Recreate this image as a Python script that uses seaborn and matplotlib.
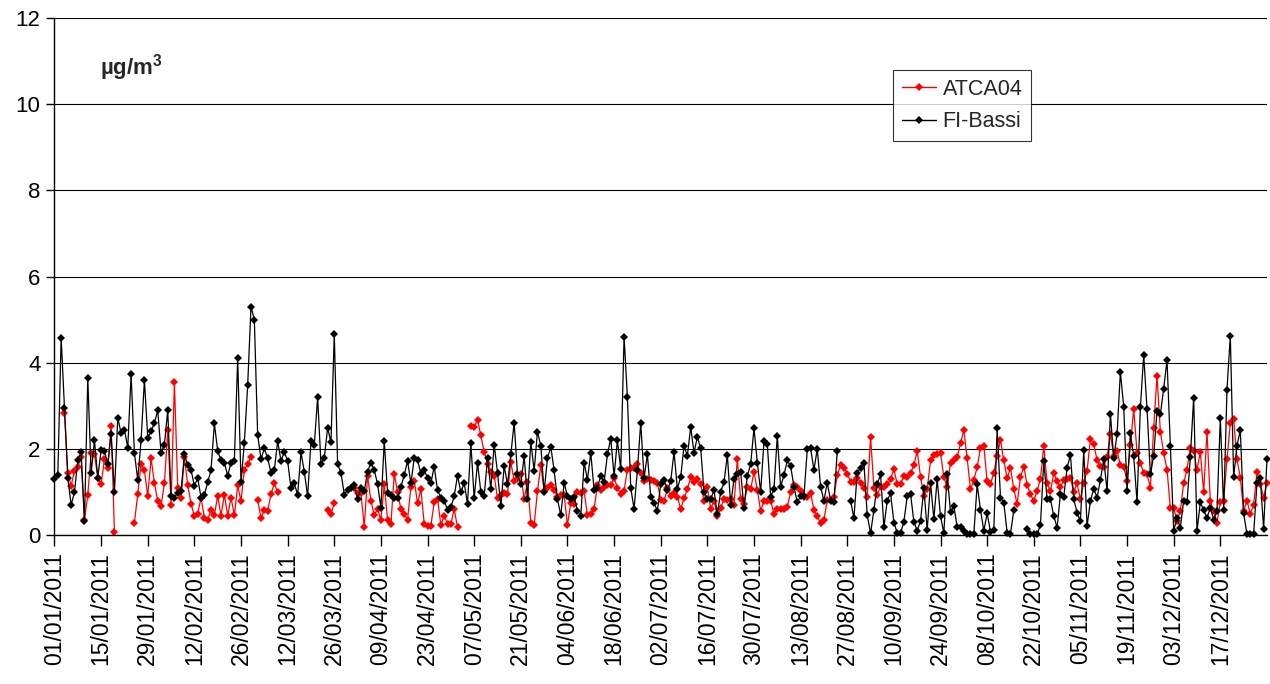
import numpy as np
import pandas as pd
import seaborn as sns
import matplotlib.pyplot as plt
from matplotlib.lines import Line2D

nan = np.nan

# FI-Bassi - valori giornalieri (µg/m3), un elenco per mese
bassi_gen = [1.30, 1.39, 4.58, 2.94, 1.32, 0.70, 0.99, 1.73, 1.92, 0.32, 3.64, 1.43, 2.20, 1.33, 1.97, 1.95,
             1.64, 2.34, 0.99, 2.72, 2.36, 2.44, 2.03, 3.73, 1.90, 1.28, 2.20, 3.60, 2.26, 2.41, 2.60]
bassi_feb = [2.90, 1.90, 2.10, 2.90, 0.90, 0.87, 0.98, 1.02, 1.87, 1.62, 1.51, 1.14, 1.32, 0.87, 0.94, 1.22,
             1.51, 2.59, 1.95, 1.73, 1.68, 1.38, 1.68, 1.72, 4.10, 1.22, 2.14, 3.48]
bassi_mar = [5.30, 5.00, 2.32, 1.76, 2.01, 1.78, 1.45, 1.51, 2.18, 1.72, 1.93, 1.72, 1.08, 1.20, 0.93, 1.92,
             1.47, 0.90, 2.18, 2.09, 3.20, 1.65, 1.78, 2.49, 2.15, 4.66, 1.64, 1.45, 0.94, 1.04, 1.10]
bassi_apr = [1.16, 0.83, 1.10, 1.02, 1.47, 1.68, 1.51, 1.18, 0.63, 2.18, 0.97, 0.94, 0.87, 0.85, 1.12, 1.39,
             1.72, 1.20, 1.78, 1.74, 1.42, 1.51, 1.32, 1.20, 1.59, 1.04, 0.87, 0.80, 0.58, 0.64]
bassi_mag = [0.90, 1.38, 0.99, 1.21, 0.72, 2.13, 0.85, 1.68, 1.00, 0.90, 1.78, 1.07, 2.10, 1.45, 0.67, 1.60,
             1.18, 1.87, 2.61, 1.41, 1.18, 1.83, 0.84, 2.17, 1.49, 2.40, 2.07, 1.00, 1.78, 2.05, 1.50]
bassi_giu = [0.83, 0.46, 1.21, 0.90, 0.84, 0.89, 0.56, 0.44, 1.68, 1.28, 1.91, 1.04, 1.10, 1.38, 1.22, 1.87,
             2.24, 1.37, 2.20, 1.53, 4.60, 3.20, 1.10, 0.60, 1.51, 2.61, 1.32, 1.87, 0.89, 0.75]
bassi_lug = [0.56, 1.18, 1.28, 1.04, 1.25, 1.93, 1.07, 1.35, 2.07, 1.84, 2.51, 1.91, 2.28, 2.01, 1.00, 0.84,
             0.83, 1.04, 0.48, 1.00, 1.22, 1.86, 0.70, 1.30, 1.41, 1.47, 0.62, 1.38, 1.64, 2.48, 1.68]
bassi_ago = [1.00, 2.18, 2.11, 0.89, 1.07, 2.30, 1.12, 1.39, 1.73, 1.60, 1.12, 0.76, 0.90, 0.90, 1.99, 2.01,
             1.51, 2.00, 1.12, 0.80, 1.21, 0.80, 0.76, 1.95, nan, nan, nan, 0.80, 0.39, 1.45, 1.55]
bassi_set = [1.68, 0.46, 0.04, 0.58, 1.18, 1.41, 0.18, 0.80, 0.97, 0.29, 0.05, 0.04, 0.31, 0.90, 0.95, 0.31,
             0.10, 0.33, 1.08, 0.12, 1.21, 0.37, 1.30, 0.43, 0.05, 1.42, 0.53, 0.67, 0.19, 0.18]
bassi_ott = [0.10, 0.02, 0.02, 0.02, 1.18, 0.58, 0.10, 0.50, 0.08, 0.12, 2.48, 0.87, 0.75, 0.05, 0.02, 0.58,
             nan, nan, nan, 0.13, 0.02, 0.02, 0.02, 0.23, 1.72, 0.83, 0.83, 0.44, 0.17, 0.95, 0.89]
bassi_nov = [1.56, 1.86, 0.83, 0.52, 0.32, 1.97, 0.21, 0.79, 1.07, 0.87, 1.28, 1.76, 1.02, 2.82, 1.78, 2.34,
             3.78, 2.98, 1.02, 2.36, 1.83, 0.76, 2.96, 4.18, 2.92, 1.41, 1.84, 2.89, 2.80, 3.40]
bassi_dic = [4.06, 2.07, 0.10, 0.40, 0.17, 0.80, 0.76, 1.80, 3.19, 0.09, 0.76, 0.58, 0.40, 0.63, 0.36, 0.56,
             2.72, 0.58, 3.37, 4.63, 1.34, 2.07, 2.44, 0.50, 0.02, 0.02, 0.02, 1.20, 1.32, 0.15, 1.76]

# ATCA04 - valori giornalieri (µg/m3)
atca_gen = [nan, nan, nan, 2.84, 1.45, 1.14, 1.49, 1.59, 1.80, 0.35, 0.93, 1.90, 1.87, 1.33, 1.18, 1.76,
            1.56, 2.53, 0.08, nan, nan, nan, nan, nan, 0.29, 0.95, 1.66, 1.50, 0.91, 1.78, 1.21]
atca_feb = [0.79, 0.67, 1.20, 2.44, 0.70, 3.54, 1.10, 0.85, 1.80, 1.16, 0.73, 0.43, 0.49, 0.87, 0.39, 0.36,
            0.58, 0.46, 0.91, 0.45, 0.93, 0.45, 0.87, 0.46, 1.15, 0.79, 1.51, 1.65]
atca_mar = [1.82, nan, 0.81, 0.39, 0.58, 0.56, 0.95, 1.20, 0.99, nan, nan, nan, nan, nan, nan, nan,
            nan, nan, nan, nan, nan, nan, nan, 0.58, 0.48, 0.74, nan, nan, nan, nan, nan]
atca_apr = [1.08, 0.98, 0.97, 0.19, 1.37, 0.80, 0.46, 0.60, 0.35, 1.18, 0.35, 0.25, 1.42, 1.00, 0.60, 0.48,
            0.36, 1.12, 1.26, 0.74, 1.06, 0.26, 0.22, 0.22, 0.76, 0.84, 0.23, 0.45, 0.26, 0.26]
atca_mag = [0.60, 0.18, nan, nan, nan, 2.53, 2.50, 2.68, 2.31, 1.93, 1.66, 1.47, 1.38, 0.85, 0.93, 0.97,
            0.95, 1.69, 1.26, 1.30, 1.41, 0.84, 1.22, 0.29, 0.23, 1.02, 1.62, 1.02, 1.10, 1.15, 1.05]
atca_giu = [0.89, 0.93, 0.93, 0.23, 0.75, 0.72, 0.99, 0.97, 1.02, 0.46, 0.49, 0.60, 1.16, 1.04, 1.12, 1.16,
            1.15, 1.33, 1.10, 0.95, 1.03, 1.52, 1.55, 1.56, 1.64, 1.43, 1.26, 1.30, 1.28, 1.25]
atca_lug = [1.21, 0.81, 0.79, 1.08, 0.90, 0.98, 0.89, 0.60, 0.85, 1.06, 1.34, 1.24, 1.29, 1.18, 0.79, 1.11,
            0.60, 0.80, 0.43, 0.63, 0.83, 0.81, 0.83, 0.70, 1.76, 0.83, 0.71, 1.12, 1.06, 1.47, 1.04]
atca_ago = [0.56, 0.80, 0.80, 0.80, 0.49, 0.60, 0.60, 0.60, 0.66, 0.99, 1.15, 1.12, 1.02, 0.89, 0.89, 0.98,
            0.58, 0.44, 0.27, 0.35, 0.81, 0.81, 0.89, 1.39, 1.62, 1.56, 1.42, 1.24, 1.22, 1.33, 1.21]
atca_set = [1.08, 0.89, 2.28, 1.10, 0.94, 1.12, 1.11, 1.18, 1.29, 1.53, 1.18, 1.18, 1.38, 1.34, 1.43, 1.62,
            1.95, 1.35, 0.91, 1.06, 1.73, 1.86, 1.88, 1.90, 1.34, 1.12, 1.68, 1.74, 1.80, 2.13]
atca_ott = [2.44, 1.78, 1.06, 1.28, 1.57, 2.03, 2.07, 1.25, 1.18, 1.45, 1.84, 2.20, 1.73, 1.32, 1.56, 1.07,
            0.72, 1.34, 1.59, 1.16, 0.95, 0.79, 1.03, 1.30, 2.07, 1.21, 1.02, 1.43, 1.25, 1.11, 1.28]
atca_nov = [1.30, 1.32, 1.00, 1.20, 0.83, 1.21, 1.49, 2.23, 2.11, 1.74, 1.61, 1.59, 1.80, 2.34, 1.83, 1.95,
            1.62, 1.59, 1.26, 2.09, 2.92, 1.91, 1.68, 1.43, 1.41, 1.10, 2.49, 3.70, 2.40, 1.90]
atca_dic = [1.52, 0.63, 0.62, 0.33, 0.56, 1.21, 1.52, 2.03, 1.96, 1.51, 1.93, 0.99, 2.40, 0.79, 0.56, 0.29,
            0.76, 0.79, 1.76, 2.59, 2.69, 1.76, 1.33, 0.56, 0.80, 0.49, 0.70, 1.47, 1.18, 0.87, 1.20]

tick_labels = ['01/01/2011', '15/01/2011', '29/01/2011', '12/02/2011', '26/02/2011', '12/03/2011',
               '26/03/2011', '09/04/2011', '23/04/2011', '07/05/2011', '21/05/2011', '04/06/2011',
               '18/06/2011', '02/07/2011', '16/07/2011', '30/07/2011', '13/08/2011', '27/08/2011',
               '10/09/2011', '24/09/2011', '08/10/2011', '22/10/2011', '05/11/2011', '19/11/2011',
               '03/12/2011', '17/12/2011']

bassi = (bassi_gen + bassi_feb + bassi_mar + bassi_apr + bassi_mag + bassi_giu +
         bassi_lug + bassi_ago + bassi_set + bassi_ott + bassi_nov + bassi_dic)
atca = (atca_gen + atca_feb + atca_mar + atca_apr + atca_mag + atca_giu +
        atca_lug + atca_ago + atca_set + atca_ott + atca_nov + atca_dic)
days = np.arange(len(bassi))


def to_frame(values, name):
    # ogni tratto senza dati spezza la linea
    s = pd.Series(values, dtype=float)
    seg = s.isna().cumsum()
    df = pd.DataFrame({'giorno': days, 'valore': s, 'serie': name,
                       'tratto': name + '_' + seg.astype(str)})
    return df.dropna()


data = pd.concat([to_frame(atca, 'ATCA04'), to_frame(bassi, 'FI-Bassi')], ignore_index=True)
colori = {'ATCA04': '#ff0000', 'FI-Bassi': 'black'}

sns.set_theme(style='white')
plt.rcParams['font.family'] = ['Liberation Sans', 'DejaVu Sans']
plt.rcParams['mathtext.fontset'] = 'custom'
plt.rcParams['mathtext.bf'] = 'Liberation Sans:bold'

fig = plt.figure(figsize=(12.7, 6.84), dpi=100)
ax = fig.add_axes([0.0429, 0.2178, 0.9547, 0.7559])

sns.lineplot(data=data, x='giorno', y='valore', hue='serie', units='tratto', estimator=None,
             palette=colori, marker='D', markersize=4.2, markeredgewidth=0, linewidth=0.9,
             sort=False, legend=False, ax=ax)
for ln in ax.lines:
    ln.set_clip_on(False)

ax.set_xlim(0, 364)
ax.set_ylim(0, 12)
ax.set_yticks(range(0, 13, 2))
ax.set_xticks(days[:len(tick_labels) * 14:14])
ax.set_xticklabels(tick_labels, rotation=90)
ax.set_xlabel('')
ax.set_ylabel('')
ax.grid(axis='y', color='black', linewidth=0.8)
ax.set_axisbelow(True)
for side in ['top', 'right']:
    ax.spines[side].set_visible(False)
for side in ['left', 'bottom']:
    ax.spines[side].set_color('black')
    ax.spines[side].set_linewidth(1)
ax.tick_params(axis='both', bottom=True, left=True, direction='out', width=1,
               color='black', labelcolor='black')
ax.tick_params(axis='x', length=8, pad=4.5, labelsize=16.5)
ax.tick_params(axis='y', length=6, pad=4, labelsize=16)

fig.text(100 / 1270, 1 - 68 / 684, r'µg/m$^{\mathbf{3}}$', fontsize=16, fontweight='bold', va='center')

handles = [Line2D([], [], color=colori[k], marker='D', markersize=3.6, markeredgewidth=0, linewidth=1)
           for k in colori]
leg = ax.legend(handles, list(colori), loc='upper left', bbox_to_anchor=(893 / 1270, 1 - 70 / 684),
                bbox_transform=fig.transFigure, borderaxespad=0, frameon=True, fancybox=False,
                fontsize=15.5, handlelength=1.6, handletextpad=0.3, borderpad=0.4, labelspacing=0.55)
leg.get_frame().set_edgecolor('black')
leg.get_frame().set_linewidth(0.8)

fig.savefig('out.png', dpi=100)
